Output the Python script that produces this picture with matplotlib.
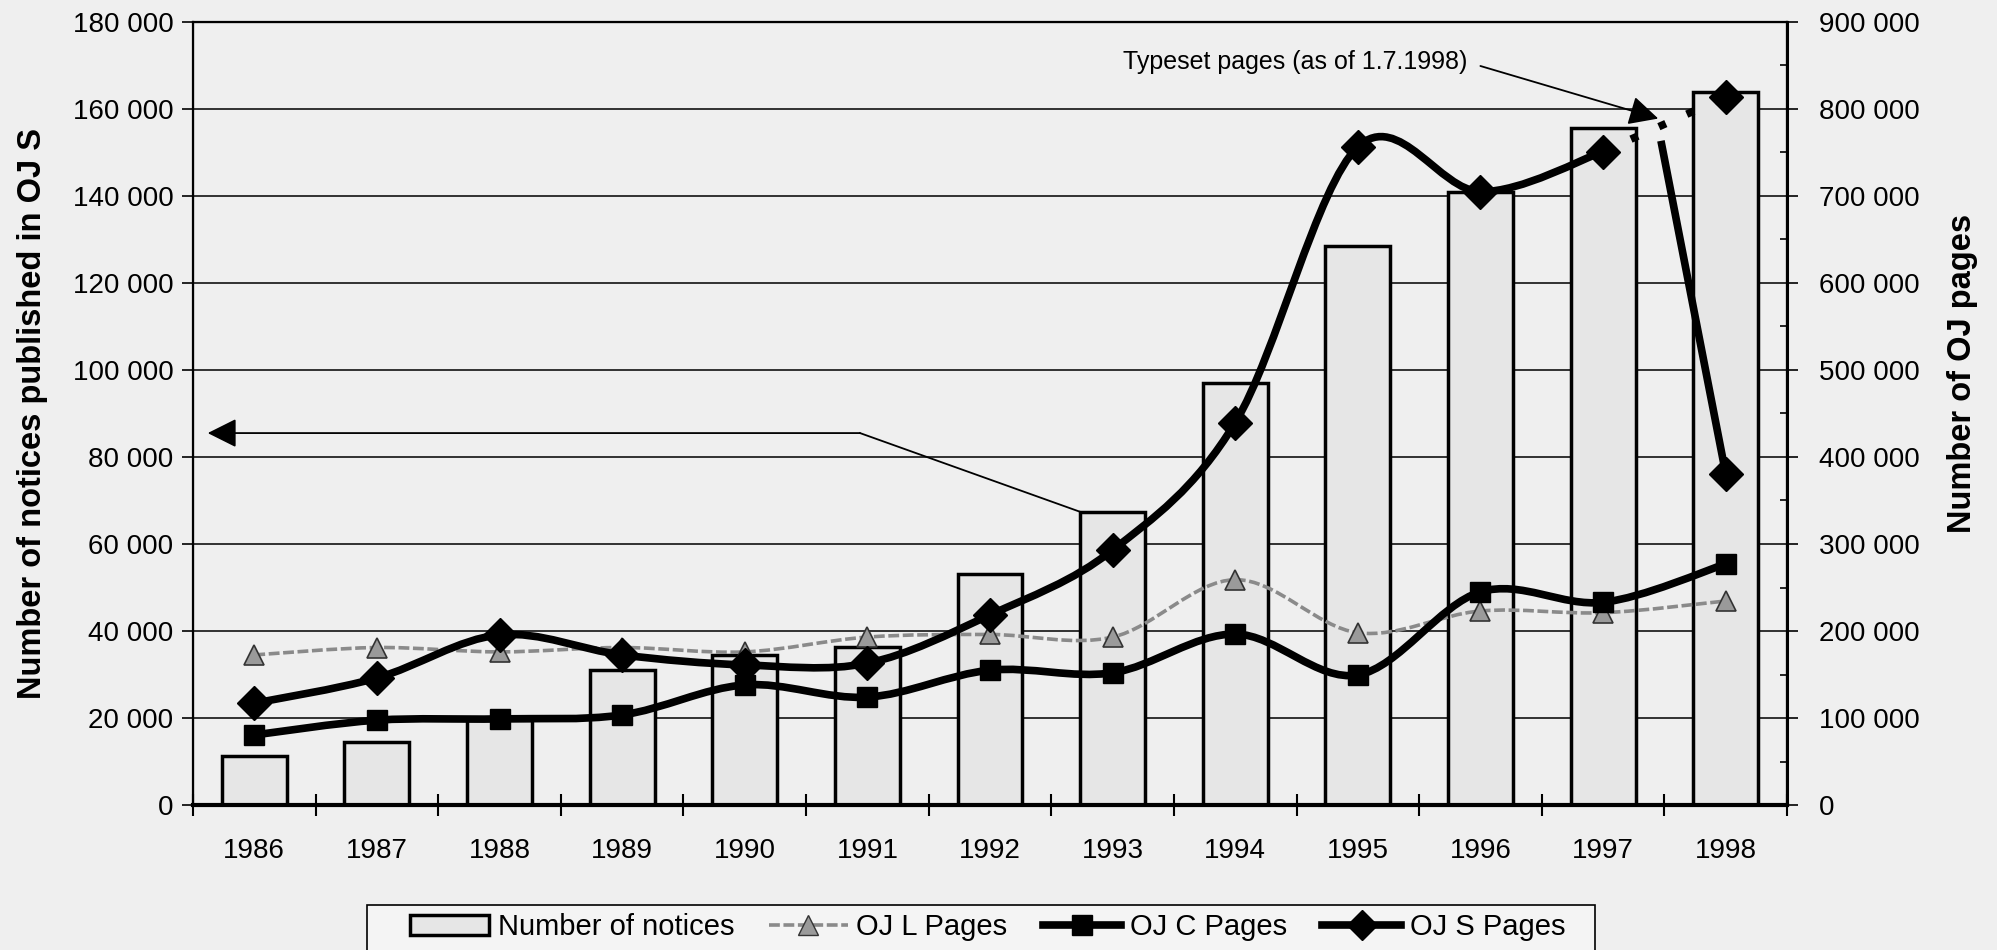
import matplotlib
matplotlib.use('Agg')
import matplotlib.pyplot as plt
import numpy as np
from matplotlib.path import Path
from matplotlib.patches import PathPatch, Patch, Rectangle
from matplotlib.lines import Line2D
from matplotlib.ticker import FuncFormatter, MultipleLocator

plt.rcParams['font.family'] = ['Liberation Sans', 'DejaVu Sans']

# Data
years = ['1986', '1987', '1988', '1989', '1990', '1991', '1992',
         '1993', '1994', '1995', '1996', '1997', '1998']
notices = [11300, 14500, 19500, 31000, 34500, 36300, 53000,
           67400, 97000, 128500, 141000, 155600, 164000]
oj_l_pages = [172500, 181000, 176000, 181000, 176000, 193000, 196000,
              193000, 259000, 198000, 223000, 221000, 234500]
oj_c_pages = [80500, 97500, 99000, 103500, 138000, 124000, 155000,
              152000, 196500, 149500, 245000, 233000, 277000]
oj_s_pages = [117000, 146000, 195500, 172500, 161000, 163000, 218500,
              293000, 439500, 756500, 705000, 751000, 381000]
oj_s_typeset_1998 = 814000
arrow_level = 85500          # level of the long arrow on the left axis

BG = '#efefef'
BAR_FACE = '#e6e6e6'
BAR_W = 0.53
W, H = 1997, 950


def smooth_path(xs, ys):
    # excel-like smoothed line: cubic bezier through every point
    pts = np.column_stack([xs, ys]).astype(float)
    n = len(pts)
    verts = [pts[0]]
    codes = [Path.MOVETO]
    for i in range(n - 1):
        p0 = pts[max(i - 1, 0)]
        p1 = pts[i]
        p2 = pts[i + 1]
        p3 = pts[min(i + 2, n - 1)]
        verts += [p1 + (p2 - p0) / 6.0, p2 - (p3 - p1) / 6.0, p2]
        codes += [Path.CURVE4] * 3
    return Path(verts, codes)


def space_thousands(v, pos):
    return '{:,}'.format(int(round(v))).replace(',', ' ')


fig = plt.figure(figsize=(W / 100, H / 100), dpi=100, facecolor=BG)
ax = fig.add_axes([193 / W, 1 - 805 / H, (1787 - 193) / W, (805 - 22) / H])
ax.set_facecolor(BG)
ax2 = ax.twinx()

x = np.arange(len(years))

# bars: number of notices (left axis)
ax.bar(x, notices, width=BAR_W, color=BAR_FACE, edgecolor='black', linewidth=2.5, zorder=2)

ax.set_xlim(-0.5, len(years) - 0.5)
ax.set_ylim(0, 180000)
ax.yaxis.set_major_locator(MultipleLocator(20000))
ax.yaxis.set_major_formatter(FuncFormatter(space_thousands))
ax.yaxis.grid(True, color='#111111', linewidth=1.2)
ax.set_axisbelow(True)

ax.set_xticks(x)
ax.set_xticklabels(years)
ax.set_xticks(np.arange(-0.5, len(years), 1.0), minor=True)
ax.tick_params(axis='x', which='major', length=0, pad=24, labelsize=20)
ax.tick_params(axis='x', which='minor', length=16, width=1.5, direction='inout')
ax.tick_params(axis='y', which='major', length=8, width=1.2, pad=6, labelsize=20)

for side in ['left', 'top', 'right']:
    ax.spines[side].set_linewidth(1.6)
ax.spines['bottom'].set_linewidth(3)

ax.set_ylabel('Number of notices published in OJ S', fontsize=23.5, fontweight='bold', labelpad=18)

# lines: pages (right axis)
ax2.set_ylim(0, 900000)
ax2.yaxis.set_major_locator(MultipleLocator(100000))
ax2.yaxis.set_minor_locator(MultipleLocator(50000))
ax2.yaxis.set_major_formatter(FuncFormatter(space_thousands))
ax2.tick_params(axis='y', which='major', length=8, width=1.2, pad=15, labelsize=20)
ax2.tick_params(axis='y', which='minor', length=5, width=1.2, direction='in')
ax2.spines['right'].set_linewidth(2.2)

l_style = dict(color='#8a8a8a', linewidth=2.6, linestyle=(0, (3, 1)))
ax2.add_patch(PathPatch(smooth_path(x, oj_l_pages), fill=False, zorder=3, **l_style))
ax2.plot(x, oj_l_pages, linestyle='none', marker='^', markersize=14,
         markerfacecolor='#9a9a9a', markeredgecolor='#333333', markeredgewidth=1.2, zorder=4)

ax2.add_patch(PathPatch(smooth_path(x, oj_c_pages), fill=False, color='black',
                        linewidth=5.5, zorder=5))
ax2.plot(x, oj_c_pages, linestyle='none', marker='s', markersize=15, color='black', zorder=6)

# OJ S: smoothed up to 1997, then typeset segment and drop to 1998
ax2.add_patch(PathPatch(smooth_path(x[:-1], oj_s_pages[:-1]), fill=False, color='black',
                        linewidth=5.5, zorder=7))
ax2.plot([x[-2], x[-1]], [oj_s_pages[-2], oj_s_typeset_1998], color='black',
         linewidth=5.5, linestyle=(0, (1, 3)), zorder=7)
frac = 0.45
drop_x0 = x[-2] + frac + 0.04 * (1 - frac)
drop_y0 = oj_s_pages[-2] + frac * (oj_s_typeset_1998 - oj_s_pages[-2])
drop_y0 = drop_y0 + 0.04 * (oj_s_pages[-1] - drop_y0)
ax2.plot([drop_x0, x[-1]], [drop_y0, oj_s_pages[-1]], color='black', linewidth=5.5,
         solid_capstyle='butt', zorder=7)
ax2.plot(x, oj_s_pages, linestyle='none', marker='D', markersize=17, color='black', zorder=8)
ax2.plot([x[-1]], [oj_s_typeset_1998], linestyle='none', marker='D', markersize=17,
         color='black', zorder=8)

head = '-|>,head_length=0.5,head_width=0.25'
ax2.annotate('Typeset pages (as of 1.7.1998)', xy=(11.45, 789000), xytext=(9.89, 854000),
             ha='right', va='center', fontsize=18,
             arrowprops=dict(arrowstyle=head, mutation_scale=36, lw=1.3, color='black',
                             relpos=(1, 0.5), shrinkA=8, shrinkB=0), zorder=9)

# long arrow from the 1993 bar to the left axis
bend_x = 4.94
ax.plot([x[7] - BAR_W / 2, bend_x], [notices[7], arrow_level], color='black', linewidth=1.3, zorder=3)
ax.annotate('', xy=(-0.38, arrow_level), xytext=(bend_x, arrow_level),
            arrowprops=dict(arrowstyle=head, mutation_scale=36, lw=1.3, color='black',
                            shrinkA=0, shrinkB=0), zorder=3)

fig.text(1962 / W, 1 - 373 / H, 'Number of OJ pages', rotation=90, fontsize=23.5,
         fontweight='bold', ha='center', va='center')

# legend: box running off the bottom edge, wide side padding
fig.patches.append(Rectangle((367 / W, -0.02), (1595 - 367) / W, 0.02 + (H - 905) / H,
                             transform=fig.transFigure, facecolor='#f4f4f4',
                             edgecolor='black', linewidth=1.2, zorder=0))
handles = [
    Patch(facecolor=BAR_FACE, edgecolor='black', linewidth=2.5),
    Line2D([], [], marker='^', markersize=14, markerfacecolor='#9a9a9a',
           markeredgecolor='#333333', **l_style),
    Line2D([], [], color='black', linewidth=5.5, marker='s', markersize=15),
    Line2D([], [], color='black', linewidth=5.5, marker='D', markersize=15),
]
labels = ['Number of notices', 'OJ L Pages', 'OJ C Pages', 'OJ S Pages']
fig.legend(handles, labels, loc='center left', bbox_to_anchor=(410 / W, 1 - 927 / H),
           ncol=4, frameon=False, fontsize=21, handlelength=2.7, handletextpad=0.3,
           columnspacing=1.2, borderpad=0, borderaxespad=0)

fig.savefig('out.png', dpi=100, facecolor=BG)
